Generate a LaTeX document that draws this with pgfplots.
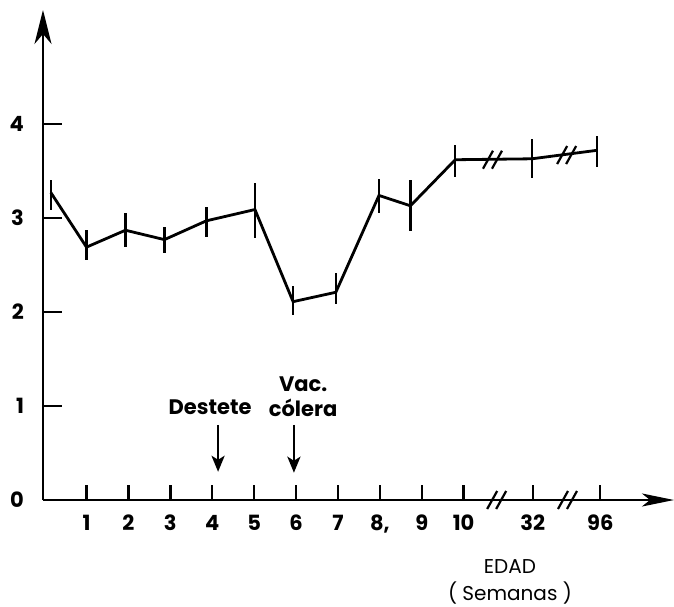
\documentclass[border=0pt]{standalone}
\usepackage{fontspec}
\setmainfont{Poppins}
\usepackage{pgfplots}
\pgfplotsset{compat=1.18}
\usetikzlibrary{arrows.meta}

% week 0-10 at their own value; 32 and 96 sit after the two axis breaks
\pgfplotstableread{
x      y     ep    em
0.15   3.27  0.13  0.19
1.00   2.69  0.18  0.14
1.93   2.87  0.18  0.18
2.86   2.77  0.13  0.14
3.86   2.97  0.15  0.17
5.02   3.09  0.28  0.30
5.93   2.11  0.17  0.14
6.95   2.21  0.21  0.12
7.98   3.24  0.18  0.19
8.73   3.13  0.27  0.27
9.80   3.62  0.16  0.18
11.63  3.63  0.21  0.20
13.18  3.72  0.15  0.18
}\pesodata

\tikzset{
  axisbreak/.style={line width=1.1pt},
  event arrow/.style={line width=1.3pt, -{Stealth[length=8pt,width=6.5pt,inset=2pt]}},
}

\begin{document}
\begin{tikzpicture}
  \path[use as bounding box] (-21.5pt,-53pt) rectangle (315.5pt,250pt);

  \begin{axis}[
      at={(0,0)},
      anchor=south west,
      scale only axis,
      width=315.5pt,
      height=245pt,
      xmin=-0.038, xmax=15.02,
      ymin=0, ymax=5.213,
      axis x line=bottom,
      axis y line=left,
      axis line style={line width=1.2pt},
      x axis line style={-{Stealth[length=16pt,width=6.5pt,inset=4pt]}},
      y axis line style={-{Stealth[length=17pt,width=8.5pt,inset=5pt]}},
      xtick={1,2,3,4,5,6,7,8,9,10,11.65,13.26},
      xticklabels={1,2,3,4,5,6,7,{8,},9,10,32,96},
      ytick={0,1,2,3,4},
      xtick align=inside,
      ytick align=inside,
      tick style={line width=1.2pt, black},
      xtick style={/pgfplots/major tick length=7.5pt},
      ytick style={/pgfplots/major tick length=9.5pt},
      /pgf/number format/assume math mode=true,
      tick label style={font=\fontsize{10.5}{12}\selectfont\bfseries},
      xticklabel style={yshift=-4pt},
      yticklabel style={xshift=-6pt},
      xlabel={EDAD\\( Semanas )},
      xlabel style={at={(rel axis cs:0.740,0)}, anchor=north, yshift=-26pt,
        align=center, font=\fontsize{10}{13.5}\selectfont},
      clip=false,
    ]

    \addplot[
      black,
      line width=1.4pt,
      mark=none,
      error bars/.cd,
      y dir=both,
      y explicit,
      error mark=none,
      error bar style={line width=1.2pt},
    ]
    table[x=x, y=y, y error plus=ep, y error minus=em] {\pesodata};

    % axis breaks on the line and on the x axis
    \draw[axisbreak, shift={(axis cs:10.70,3.62)}]
      (-5pt,-4.5pt) -- (0pt,4.5pt) (-0.5pt,-4.5pt) -- (4.5pt,4.5pt);
    \draw[axisbreak, shift={(axis cs:12.47,3.67)}]
      (-5pt,-4.5pt) -- (0pt,4.5pt) (-0.5pt,-4.5pt) -- (4.5pt,4.5pt);
    \draw[axisbreak, shift={(axis cs:10.80,0)}]
      (-5pt,-4.5pt) -- (0pt,4.5pt) (-0.5pt,-4.5pt) -- (4.5pt,4.5pt);
    \draw[axisbreak, shift={(axis cs:12.49,0)}]
      (-5pt,-4.5pt) -- (0pt,4.5pt) (-0.5pt,-4.5pt) -- (4.5pt,4.5pt);

    % events
    \node[font=\fontsize{10.5}{12.5}\selectfont\bfseries]
      at (axis cs:3.95,0.99) {Destete};
    \node[font=\fontsize{10.5}{12.5}\selectfont\bfseries, align=center]
      at (axis cs:6.17,1.10) {Vac.\\cólera};
    \draw[event arrow] (axis cs:4.14,0.80) -- (axis cs:4.14,0.30);
    \draw[event arrow] (axis cs:5.95,0.80) -- (axis cs:5.95,0.29);

  \end{axis}
\end{tikzpicture}
\end{document}
